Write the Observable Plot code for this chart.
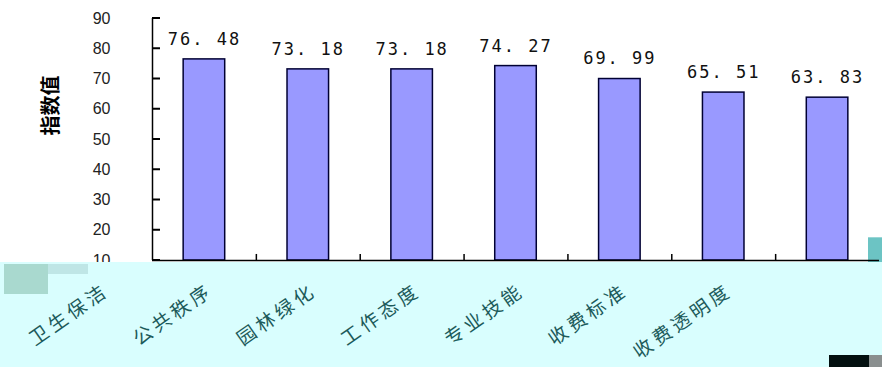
<!DOCTYPE html>
<html>
<head>
<meta charset="utf-8">
<script src="https://cdn.jsdelivr.net/npm/d3@7"></script>
<script src="https://cdn.jsdelivr.net/npm/@observablehq/plot@0.6"></script>
<style>
  html, body { margin: 0; padding: 0; background: #fff; }
  #chart svg { display: block; }
  .vlab text { letter-spacing: 2px; }
  .clab text { letter-spacing: 4px; }
</style>
</head>
<body>
<div id="chart"></div>
<script>
const categories = ["卫生保洁", "公共秩序", "园林绿化", "工作态度", "专业技能", "收费标准", "收费透明度"];
const values = [76.48, 73.18, 73.18, 74.27, 69.99, 65.51, 63.83];
const yTicks = [10, 20, 30, 40, 50, 60, 70, 80, 90];
const yLabel = "指数值";

const data = categories.map((c, i) => ({
  c, i, v: values[i],
  label: d3.format(".2f")(values[i]).replace(".", ". ")
}));
const bounds = categories.slice(1).map((c, i) => i + 0.5);

// inward tick marks on the value axis, placed through the plot's own scales
const yTickMarks = (index, scales) => {
  const g = d3.create("svg:g").attr("stroke", "#000").attr("stroke-width", 2).attr("fill", "none");
  const x0 = scales.x(-0.5);
  for (const t of yTicks) {
    const y = scales.y(t);
    g.append("path").attr("d", `M${x0},${y}H${x0 + 8}`);
  }
  return g.node();
};

const cyanBand = (index, scales, vals, dim) => {
  const g = d3.create("svg:g");
  const y0 = scales.y(10) + 2;
  g.append("rect").attr("x", 0).attr("y", y0).attr("width", dim.width).attr("height", dim.height - y0).attr("fill", "#d9fefe");
  // scan artefacts of the original picture
  g.append("rect").attr("x", 868).attr("y", scales.y(17.5)).attr("width", 14).attr("height", y0 - scales.y(17.5)).attr("fill", "#6cc4c4");
  g.append("rect").attr("x", 4).attr("y", y0 + 2).attr("width", 44).attr("height", 30).attr("fill", "#a9d9cf");
  g.append("rect").attr("x", 48).attr("y", y0 + 2).attr("width", 40).attr("height", 10).attr("fill", "#bfe6e6");
  g.append("rect").attr("x", 829).attr("y", dim.height - 12).attr("width", 40).attr("height", 12).attr("fill", "#031010");
  g.append("rect").attr("x", 869).attr("y", dim.height - 12).attr("width", 13).attr("height", 12).attr("fill", "#8a8f8f");
  return g.node();
};

const chart = Plot.plot({
  width: 882,
  height: 367,
  marginTop: 18,
  marginBottom: 107,
  marginLeft: 152,
  marginRight: 3,
  style: { background: "transparent", fontFamily: "Arial, 'Liberation Sans', sans-serif", overflow: "visible" },
  x: { type: "linear", domain: [-0.5, categories.length - 0.5], axis: null },
  y: { domain: [10, 90], axis: null },
  marks: [
    Plot.rectY(data, { x1: d => d.i - 0.2, x2: d => d.i + 0.2, y1: 10, y2: "v", fill: "#9999ff", stroke: "#000033", strokeWidth: 1.5 }),
    Plot.ruleX([-0.5], { y1: 10, y2: 90, stroke: "#000", strokeWidth: 1.5 }),
    Plot.ruleX(bounds, { y1: 10, y2: 12, stroke: "#000", strokeWidth: 1.5 }),
    yTickMarks,
    Plot.axisY(yTicks, { tickSize: 0, tickPadding: 42, fontSize: 16, fill: "#222", label: null }),
    Plot.text(data, { x: "i", y: "v", text: "label", dy: -20, fontSize: 17, fontFamily: "'DejaVu Sans Mono', monospace", fill: "#111", className: "vlab" }),
    Plot.text([yLabel], { frameAnchor: "left", dx: -101, dy: -4, rotate: -90, fontSize: 20, fontWeight: "bold", fill: "#000", fontFamily: "'Noto Sans CJK SC', sans-serif" }),
    cyanBand,
    Plot.ruleY([10], { stroke: "#000", strokeWidth: 1.5 }),
    Plot.text(data, { x: "i", text: "c", frameAnchor: "bottom", dx: -94, dy: 33, rotate: -35, textAnchor: "end", fontSize: 19, fill: "#1c5a5a", fontFamily: "'Noto Sans CJK SC', sans-serif", className: "clab" })
  ]
});
document.getElementById("chart").appendChild(chart);
</script>
</body>
</html>
